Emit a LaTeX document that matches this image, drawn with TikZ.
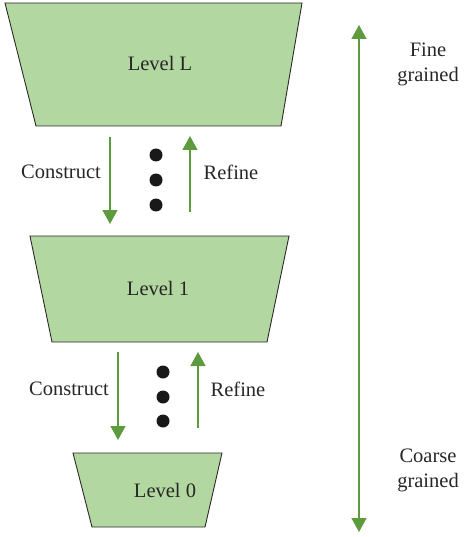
\documentclass[tikz,border=0pt]{standalone}
\usepackage{fontspec}
\setmainfont{Liberation Serif}
\usetikzlibrary{arrows.meta}
\definecolor{boxfill}{HTML}{B3D7A0}
\definecolor{arrowgreen}{HTML}{5E9B3E}
\definecolor{edge}{HTML}{2A2A2A}
\tikzset{
  level/.style={fill=boxfill, draw=edge, line width=0.9pt, line join=miter},
  garrow/.style={draw=arrowgreen, line width=1.4pt, -{Triangle[length=14pt,width=15pt]}},
  lab/.style={font=\fontsize{20.5}{25}\selectfont, text=black!85, inner sep=0pt},
  dot/.style={circle, fill=black!90, minimum size=13pt, inner sep=0pt}
}
\begin{document}
\begin{tikzpicture}[x=1pt,y=-1pt]
\useasboundingbox (0,0) rectangle (463,537);
% trapezoids
\draw[level] (5,3) -- (302,3) -- (281,126) -- (36,126) -- cycle;
\draw[level] (30,236) -- (289,236) -- (267,342) -- (52,342) -- cycle;
\draw[level] (73,453) -- (222,453) -- (205,527) -- (92,527) -- cycle;
\node[lab] (tL) at (160,63) {Level L};
\node[lab] (t1) at (158,288) {Level 1};
\node[lab] (t0) at (165,490) {Level 0};
% upper arrows
\coordinate (c1s) at (110,137); \coordinate (c1e) at (110,224);
\coordinate (r1s) at (190,212); \coordinate (r1e) at (190,136);
\draw[garrow] (c1s) -- (c1e);
\draw[garrow] (r1s) -- (r1e);
\node[lab] (con1) at (61,172) {Construct};
\node[lab] (ref1) at (231,172) {Refine};
\node[dot] (d1a) at (156,155) {};
\node[dot] (d1b) at (156,180) {};
\node[dot] (d1c) at (156,205) {};
% lower arrows
\coordinate (c2s) at (118,352); \coordinate (c2e) at (118,440);
\coordinate (r2s) at (198,428); \coordinate (r2e) at (198,352);
\draw[garrow] (c2s) -- (c2e);
\draw[garrow] (r2s) -- (r2e);
\node[lab] (con2) at (69,389) {Construct};
\node[lab] (ref2) at (238,389) {Refine};
\node[dot] (d2a) at (163,372) {};
\node[dot] (d2b) at (163,397) {};
\node[dot] (d2c) at (163,421) {};
% big arrow
\coordinate (bt) at (359,25); \coordinate (bb) at (359,532);
\draw[draw=arrowgreen, line width=1.4pt, {Triangle[length=14pt,width=15pt]}-{Triangle[length=14pt,width=15pt]}] (bt) -- (bb);
\node[lab, align=center] (fine) at (428,64) {Fine\\grained};
\node[lab, align=center] (coarse) at (428,470) {Coarse\\grained};
\end{tikzpicture}
\end{document}
